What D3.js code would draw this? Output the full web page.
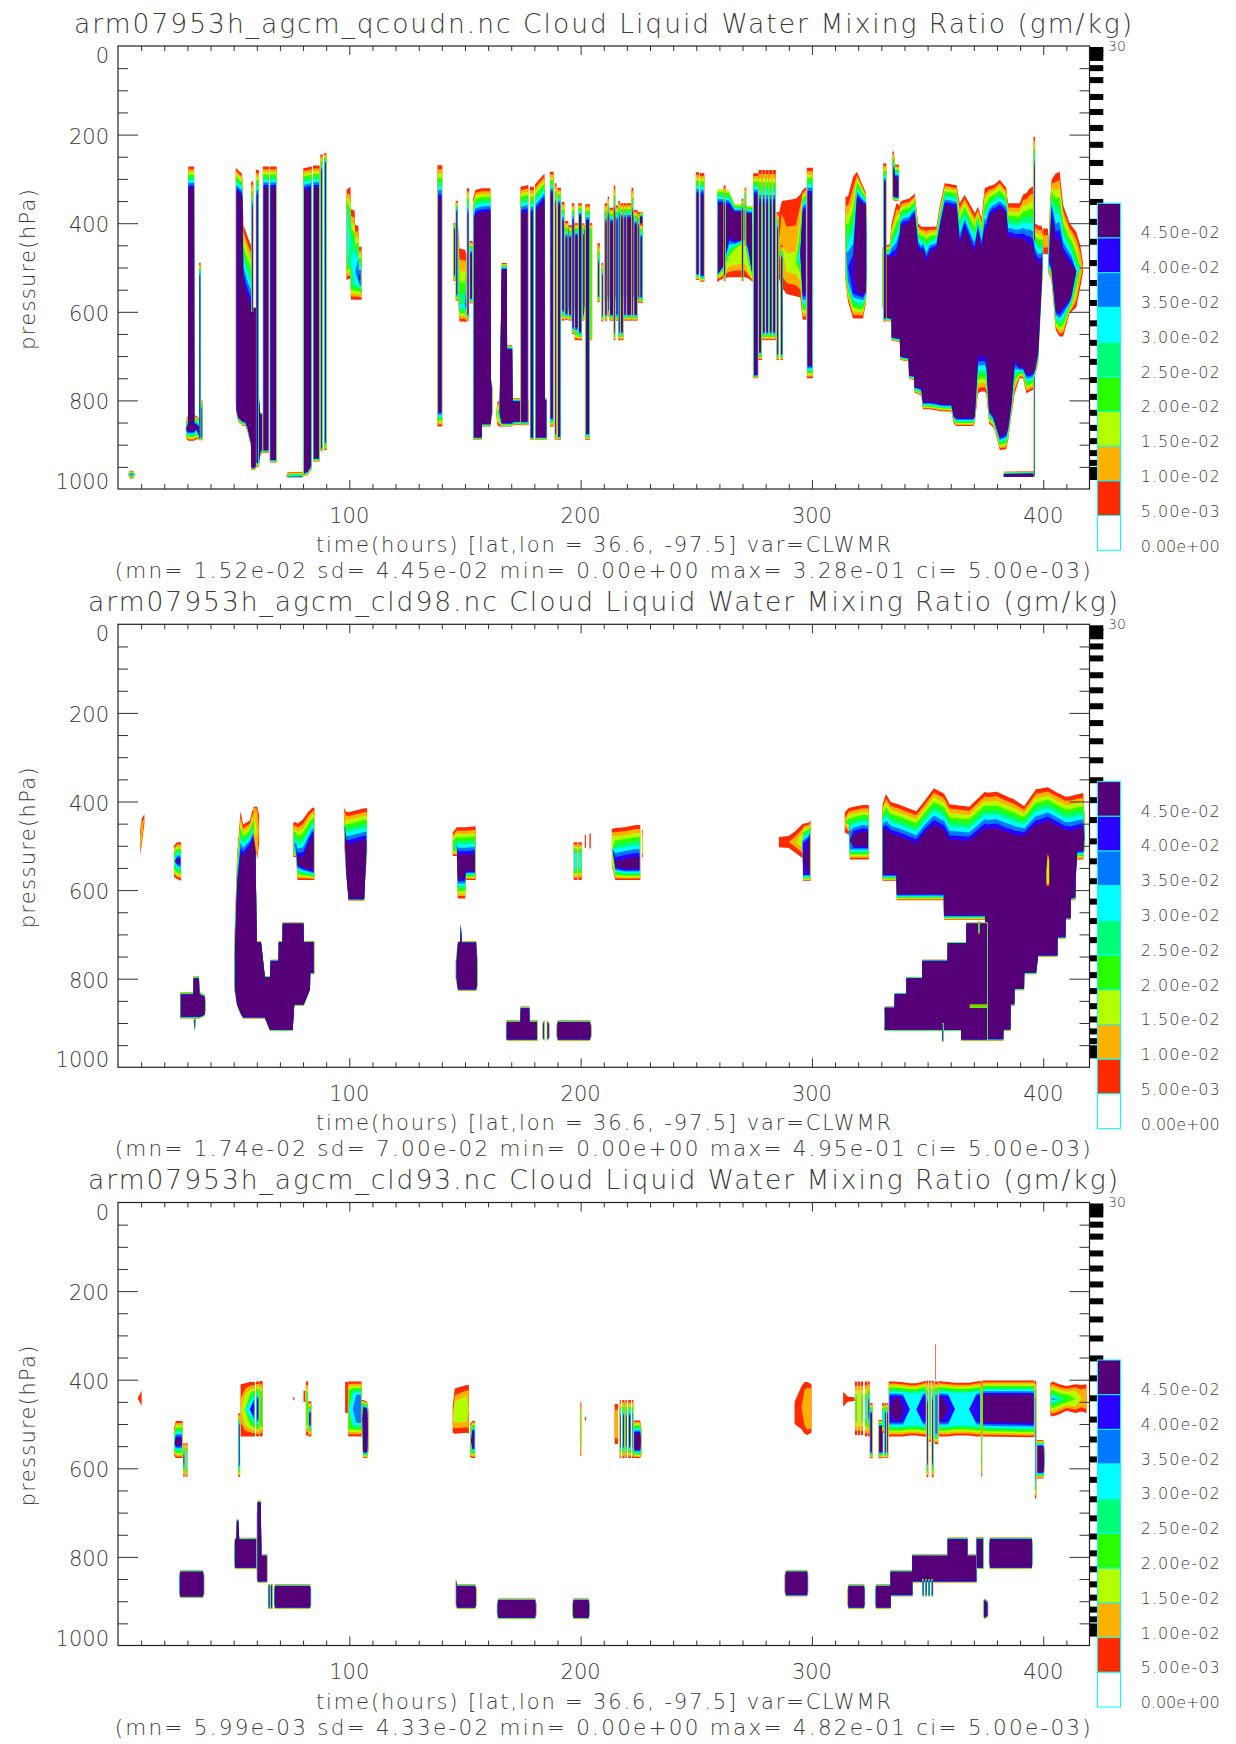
<!DOCTYPE html>
<html><head><meta charset="utf-8">
<script src="https://cdn.jsdelivr.net/npm/d3@7"></script>
<style>
html,body{margin:0;padding:0;background:#fff}
svg{display:block}
text{font-family:"DejaVu Sans",sans-serif;font-weight:200;fill:#3a3a3a}
</style></head><body>
<div id="chart"></div>
<script>
// ---- categories / labels -------------------------------------------------
const titles=["arm07953h_agcm_qcoudn.nc Cloud Liquid Water Mixing Ratio (gm/kg)",
 "arm07953h_agcm_cld98.nc Cloud Liquid Water Mixing Ratio (gm/kg)",
 "arm07953h_agcm_cld93.nc Cloud Liquid Water Mixing Ratio (gm/kg)"];
const xLabel="time(hours) [lat,lon = 36.6, -97.5] var=CLWMR";
const stats=["(mn= 1.52e-02 sd= 4.45e-02 min= 0.00e+00 max= 3.28e-01 ci= 5.00e-03)",
 "(mn= 1.74e-02 sd= 7.00e-02 min= 0.00e+00 max= 4.95e-01 ci= 5.00e-03)",
 "(mn= 5.99e-03 sd= 4.33e-02 min= 0.00e+00 max= 4.82e-01 ci= 5.00e-03)"];
const yLabel="pressure(hPa)";
const legendLabels=["4.50e-02","4.00e-02","3.50e-02","3.00e-02","2.50e-02","2.00e-02","1.50e-02","1.00e-02","5.00e-03","0.00e+00"];
const legendValues=[0.045,0.04,0.035,0.03,0.025,0.02,0.015,0.01,0.005,0];
const levelColors=["#ff2a00","#ffb000","#b4ff00","#2aff00","#00ff78","#00ffff","#0078ff","#2a00ff","#550078"];
const xMajor=[100,200,300,400];
const xMinor=[10,20,30,40,50,60,70,80,90,110,120,130,140,150,160,170,180,190,210,220,230,240,250,260,270,280,290,310,320,330,340,350,360,370,380,390,410];
const yMajor=[0,200,400,600,800,1000];
const yMinor=[50,100,150,250,300,350,450,500,550,650,700,750,850,900,950];
// model levels (hPa) shown as the black bars right of each panel
const modelLevels=[9,16,27,50,77,115,149,185,223,264,307,352,397,442,490,535,580,626,670,713,754,792,828,862,892,919,941,957,966,973];

// ---- contour envelopes. strip: [t0,t1,top,bot,topBand,botBand,cap]
//      blob: [topBand,botBand,[[t,top,bot,topBand?,botBand?,cap?],...],floor?]
const p1Blobs=[
 [10,10,[[4.4,967,967],[5,960,975],[5.9,958,977],[6.7,960,975],[7.3,967,967]]],
 [49,22,[[29.3,862,868,20,20],[29.7,840,888,22,22],[30.3,835,891,22,22],[30.4,272,891],[32.9,272,891],[33,833,891,22,25],[34,835,887,22,25],[35,842,889,20,12],[36.5,848,885,10,10]]],
 [50,10,[[50.9,276,800],[51.2,276,830],[52,281,848],[53.5,287,855],[53.8,300,857],[54.2,405,857,125,10],[55,415,858,130,10],[56,430,870,135,10],[57.5,450,905,135,10],[57.7,590,957,2,6],[59.2,590,957,2,6],[60,590,950,2,10],[61,800,945,2,10],[61.5,829,925,3,8],[62.5,829,918,3,8]]],
 [8,2,[[72.8,970,972,5,0],[73.4,962,974,12,2],[79.9,961,974,12,2]]],
 [50,8,[[80.1,276,972],[82,274,968],[83.8,272,955]]],
 [60,60,[[98.8,325,528,60,60,5],[100.5,318,525,140,60,4],[100.7,368,572,120,60,4],[102.3,372,573,130,55,5],[102.5,404,573,120,55,5],[103.9,406,573,100,55,6],[104.1,453,573,70,50,7],[105.3,453,573,70,40,6]]],
 [200,50,[[147.1,400,575,120,40,4],[147.6,457,622,200,50,5],[150,460,622,200,50,5],[150.6,470,625,100,40,7]]],
 [55,6,[[153.5,345,889,50,6],[154.5,325,889,55,6],[157.2,321,889,55,6],[157.3,321,859,55,6],[161,321,859,53,6],[161.2,750,850,5,5],[161.9,770,830,5,5]]],
 [10,8,[[163.5,830,832,60,60,0],[164,805,855,40,40,2],[165,798,859,35,35,4],[165.9,490,859,15,8],[168.1,490,859,15,8],[168.2,675,859,10,8],[170.4,675,859,10,8],[170.6,795,856,8,8],[174,795,855,8,8],[177.5,800,855,8,8]]],
 [60,8,[[174,318,856],[175.5,316,856],[177.4,314,856]]],
 [60,6,[[180.3,312,889],[184.4,288,889],[184.5,795,889,5,6],[185.5,795,889,5,6]]],
 [12,12,[[193,405,600],[204,405,600]]],
 [12,12,[[210.4,375,575],[227,375,575]]],
 [30,60,[[259,312,525,45,12],[261.6,312,515,45,20],[264.2,315,500,45,70],[266.6,351,470,25,30],[271,351,445,25,10],[272.5,355,510,25,60],[274.4,355,528,25,20]],2],
 [40,6,[[284,340,520],[285.4,330,520]],9],
 [230,200,[[285.4,385,520,200,200,0],[287,350,545,230,210,1],[289,348,560,480,200,2],[293,345,565,480,200,2],[295,335,568,200,150,8],[296,325,618,50,60,8],[297.6,318,618,50,60,8]]],
 [150,60,[[314.5,340,528,160,30,4],[315.6,340,577,165,60,6],[317.8,295,615,203,64,7],[319.5,284,615,60,60,8],[322.1,317,615,40,55,8],[323.3,330,581,30,30,8],[323.8,400,536,20,20,8]]],
 [45,10,[[334.8,240,345,45,10,7],[335.4,237,349,40,10],[336,268,350,30,10],[337.7,268,349,30,8]]],
 [50,8,[[330.5,455,590,10,10],[332.3,450,620,25,8],[333.6,448,622,28,8],[334.4,400,622,75,8],[334.5,400,665,75,8],[336.5,355,667,118,8],[338,360,668,75,8],[338.2,352,708,60,8],[339.4,348,710,55,8],[341.8,345,712,55,8],[342,345,752,55,8],[343,340,752,50,8],[344.2,335,755,48,10],[344.4,330,782,50,12],[345.9,400,785,55,14],[347.3,408,790,58,16],[348,408,820,50,16],[349.5,408,820,79,16],[350.9,408,820,56,16],[353.8,408,822,49,16],[355.2,363,824,52,16],[357.4,310,825,49,16],[360.3,312,825,49,16],[361.3,314,852,49,18],[362.5,314,858,49,18],[363.9,355,858,94,18],[366,336,858,72,18],[369.7,370,858,90,18],[370.4,378,852,85,18],[371.8,363,784,52,83],[373.3,389,780,68,79],[374.7,320,780,95,79],[375.4,320,785,95,75],[376.6,316,852,70,30],[378.3,314,860,60,25],[379,312,867,62,20],[381.2,302,912,64,30],[384,320,910,58,35],[384.8,355,890,75,30],[386.2,355,836,75,30],[387.7,355,784,79,75],[389.8,355,750,79,25],[391.3,335,750,100,25],[392.7,332,784,110,45],[394.2,321,780,124,40],[395.6,317,776,136,40],[396.4,400,746,75,15],[397.8,405,716,85,25],[399.2,405,566,85,20],[399.9,420,505,50,5]]],
 [120,120,[[400,412,470,120,120,1],[402,412,470,120,120,1],[402.2,430,460,120,120,0]]],
 [6,1,[[382.6,970,972,5,0],[383.1,961,973,6,1],[396.2,960,973,6,1]]],
 [60,60,[[402.1,460,510,20,15,6],[403,350,520,80,30,7],[403.6,302,532,70,30,8],[405.4,288,641,150,45,8],[407.1,284,656,150,55,8],[408.6,359,656,110,68,8],[411.4,400,603,90,30,8],[412.2,405,600,90,40,8],[414.3,420,590,130,120,5],[416,450,545,120,120,1],[417.2,490,510,120,120,0]]]
];
const p1Lower=[
 [0,35,[[259,400,532,0,35,2],[261.6,400,525,0,50,2],[264.2,400,522,0,100,2],[268,400,522,0,120,2],[271,400,522,0,120,2],[272.5,400,525,0,60,2],[274.4,400,532,0,20,2]]]
];
const p1Strips=[
 [35,35.8,490,890,30,5],[36,36.5,800,890,20,8],
 [57.6,58.5,306,600,60,0],[59.6,60.9,280,950,60,10],
 [62.6,65.3,272,918,48,6],[65.6,68.6,272,940,48,6],
 [84.3,87.2,270,938,50,8],[87.5,88.5,245,915,40,8],[89.1,90.2,242,912,25,20,7],
 [138.1,140.2,269,859,75,35],
 [145,146,400,530,15,15],[146,147,350,575,25,15],
 [150.8,151.8,321,620,60,15],[152,153.3,440,581,30,12],
 [178.1,179.8,318,889,60,6],[186.7,188.3,284,859,50,20],[188.8,189.6,310,889,50,15],[190,191.5,320,889,40,8],
 [191.8,193,352,620,45,25],[193.2,194.6,395,618,40,15],[194.8,196.2,405,620,30,15],[196.2,197.3,355,650,40,15],[197.4,199,400,664,30,30],[199,200.6,355,664,30,20],[200.8,201.6,400,620,30,15],[202,204,357,889,40,15],[204,205,400,664,30,10,3],
 [207.3,208.3,445,578,50,15],[209,209.8,490,622,30,15],[210.4,211.5,355,620,45,15],[211.7,212.3,340,610,45,15],[212.5,214.3,365,620,35,15],[214.3,215,315,664,60,20],[215.2,216.3,360,620,35,15],[216.3,217,350,664,35,20],[217.2,218.5,355,664,35,20],[218.6,219.8,355,620,35,15],[219.9,222,355,620,35,15],[222,222.8,320,620,60,15],[223,224.6,370,620,35,15],[224.7,225.5,375,580,35,15],[225.6,226.9,400,580,35,15],
 [249.8,251.3,285,528,50,15],[251.6,253.5,287,532,50,15],
 [261.8,262.7,315,530,45,15],[269.6,270.4,345,530,25,10],[270.9,271.6,320,450,30,10,4],
 [274.6,276.8,287,750,50,8],[276.9,278.3,280,709,75,20],[278.5,279.8,280,664,75,20],[280,281.3,280,664,75,20],[281.5,282.8,280,664,75,20],[283,284.4,280,664,75,20],[284.7,285.7,375,709,40,15],[286.4,287.5,450,709,30,15],
 [297.8,300.4,275,750,60,30],
 [330.8,332.2,265,622,45,8],[395.8,396.5,205,440,70,0],[395.9,396.4,746,972,3,3,7]
];
const p2Blobs=[
 [60,60,[[9.6,465,520,100,60,2],[10.2,440,500,60,60,1],[11.4,428,450,30,30,0]]],
 [40,40,[[24.2,500,570,40,40,4],[25.5,492,575],[27.3,492,579]]],
 [6,4,[[26.8,830,890],[32.6,830,890],[32.7,794,890],[35,794,890],[35.2,830,890],[37.4,835,885],[37.9,850,870]]],
 [4,2,[[32.7,890,895],[33.2,890,918],[33.7,890,895]]],
 [72,4,[[50.2,736,823,3,3],[51.5,520,861,72,3],[53,422,880,95,3],[54.1,452,890,70,3],[57,443,890,60,3],[58,422,890,70,3],[59.4,412,890,70,3],[59.5,530,890,8,3],[60,715,890,3,3],[61.8,715,890,3,3],[63.5,794,890,3,3],[65.7,794,918,3,3],[66,757,918,3,3],[69.4,757,918,3,3],[69.5,715,918,3,3],[71.1,715,918,3,3],[71.2,673,918,3,3],[75.5,673,918,3,3],[76.2,673,861,3,3],[80.2,673,861,3,3],[80.3,715,861,3,3],[83,715,826,3,3],[83.1,715,790,3,3],[84.9,715,790,3,3]]],
 [70,30,[[58.6,412,480,20,20,2],[60.2,412,530,40,20,1],[61,430,495,30,30,0]]],
 [72,25,[[75.8,447,525,60,20,4],[77,447,525,60,15,6],[77.6,450,577,75,36,8],[80,440,577,85,28,8],[82,425,577,75,25,8],[84,414,577,63,21,8],[84.9,414,577,63,21,8]]],
 [72,8,[[97.7,415,490,30,10,1],[98.6,423,560,72,8],[99.7,424,624,72,4],[106.4,415,624,72,4],[107,415,560,72,8],[107.7,415,520,72,8]]],
 [62,20,[[144.7,470,523,50,30,3],[146.5,458,523,55,25,4],[146.9,458,619,62,45,8],[150.1,458,619,62,45,8],[150.3,458,577,62,20,8],[154.6,456,577,62,20,8]]],
 [4,3,[[146,760,800],[147,715,827],[148,715,827],[148.2,675,827],[148.6,715,827],[154.8,715,827],[155.5,760,815]]],
 [4,3,[[167.7,905,935],[168.1,894,940],[174,894,940],[174.1,863,940],[177.8,863,940],[177.9,894,940],[181.4,894,940]]],
 [4,3,[[183.5,900,935],[184.4,894,940]]],
 [4,3,[[185.4,894,940],[186.5,900,935]]],
 [4,3,[[189.6,905,930],[190.2,894,940],[204,894,940],[204.7,905,930]]],
 [70,25,[[213.5,462,545,60,20,2],[215,460,577,75,30,8],[219,458,577,72,25,8],[224,453,577,72,25,8],[225.8,453,577,72,25,8]]],
 [50,10,[[285.7,480,503,120,120,0],[290,478,505,120,120,0],[293,466,516,100,100,1],[296,450,528,90,90,2],[296.2,450,579,50,15,7],[298.5,448,579,40,15,8],[299.4,443,579,35,15,8]]],
 [60,30,[[314.2,425,470,100,100,1],[316,414,475,60,60,3],[316.4,414,531,70,30,6],[318,412,531,62,30,8],[322,408,531,60,30,8],[324.6,408,531,62,30,8]]],
 [80,14,[[330.3,430,570,30,10],[330.6,405,579,60,14],[332,383,579,80,14],[334.1,401,579,72,14],[336.5,405,579,72,14],[336.7,405,623,72,14],[339.2,410,623,72,14],[345.1,422,623,72,14],[348.5,400,623,72,14],[352.7,370,623,82,14],[357,382,623,82,14],[357.1,382,667,82,10],[359.5,406,667,80,10],[368,412,667,77,10],[374.8,378,667,82,10],[375.7,380,940,82,4],[379.9,378,940,82,4],[382.7,385,940,82,4],[382.8,385,918,82,4],[385.8,392,918,80,4],[385.9,392,861,80,4],[387.5,395,861,80,4],[387.6,396,826,80,4],[391.7,410,826,67,4],[391.8,410,790,67,4],[396.9,372,790,80,4],[397.8,372,751,80,4],[402,368,751,75,4],[406.1,380,751,75,4],[406.2,380,710,75,4],[409.6,389,710,76,4],[409.7,389,667,76,4],[411.8,388,667,78,4],[411.9,388,623,78,4],[413.9,385,623,78,8],[414,385,577,78,8],[414.7,384,531,78,20],[417.3,381,531,79,20],[418.1,452,500,30,20]]],
 [3,3,[[331.2,880,905],[331.5,863,918],[335.7,863,918],[335.8,832,918],[340.8,832,918],[340.9,796,918],[347.6,796,918],[347.7,757,918],[358.6,757,918],[358.7,717,918],[364.5,717,918],[364.6,717,940],[366.7,717,940],[366.8,673,940],[376,673,940]]],
 [20,20,[[401.4,550,590,20,20,2],[402,515,592,30,30,2],[402.6,530,590,20,20,2]]]
];
const p2Strips=[
 [197,198.6,492,577,40,40,5],[199,200.5,492,577,40,40,5],[201.8,202.3,475,505,20,20,0],[203.8,204.4,473,506,20,20,0],[226.6,227,465,525,40,40,2],
 [356.2,356.9,900,942,3,3],[368.2,375.7,858,866,4,4,3],[372,372.4,670,700,10,10,5]
];
const p2Lower=[];
const p3Blobs=[
 [60,60,[[8.5,442,442,50,50,0],[10.2,425,459,50,50,0]]],
 [40,30,[[24.2,510,570,40,30,6],[25,493,577],[27.9,493,577]]],
 [4,3,[[26.4,840,885],[27,830,892],[36.7,830,892],[37.3,840,885]]],
 [45,45,[[53,410,528,250,250,1],[55,408,528,100,100,2],[57,405,528,75,75,5],[58.4,405,528,55,55,7],[59.2,405,528,55,55,7]]],
 [4,3,[[50.2,770,815],[50.6,757,827],[51.2,757,827],[51.4,715,827],[52,715,827],[52.4,757,827],[60,757,827]]],
 [4,3,[[60,700,850],[60.4,673,858],[61.7,673,858],[62,794,858],[64.6,794,858]]],
 [4,3,[[67.4,870,910],[67.9,862,917],[83,862,917],[83.5,870,910]]],
 [40,40,[[99.5,404,528,50,40,3],[101.5,404,528,40,40,5],[103,404,528,40,40,6],[105.3,404,528,40,40,6]]],
 [18,15,[[105.4,446,528,18,15,4],[106,446,577,18,15,8],[107.7,450,577,18,15,8],[108.3,470,560,18,15,6]]],
 [80,80,[[144.7,460,520,120,100,1],[145.6,420,522,120,100,2],[150.7,412,520,100,100,2],[151.7,412,522,100,100,1]]],
 [25,25,[[152.3,500,575,30,30,3],[153.2,493,577,25,25,8],[154.4,493,577,25,25,7]]],
 [4,3,[[146,850,910],[146.6,862,917],[154.4,862,917],[155,870,910]]],
 [4,3,[[163.8,905,930],[164.4,894,940],[180.3,894,940],[180.9,905,930]]],
 [4,3,[[196.4,905,930],[197,894,940],[203.4,894,940],[204,905,930]]],
 [30,20,[[222.9,492,577,30,20,8],[225.7,492,577,30,20,8],[226.3,510,570,20,20,6]]],
 [4,3,[[288.2,840,880],[288.8,830,889],[297.9,830,889],[298.4,840,880]]],
 [100,100,[[292.5,450,500,300,300,0],[295.5,415,512,300,300,0],[296.8,405,522,150,150,1],[298,405,525,100,100,1],[299.8,410,520,80,80,1]]],
 [60,60,[[313.5,427,461,120,120,0],[315.5,438,450,120,120,0],[318.5,440,448,120,120,0]]],
 [36,36,[[333.2,404,528,36,36,7],[335.8,404,528,36,36,8],[338,405,528,36,36,8],[339.4,406,528,36,36,7],[342.3,408,526,36,36,5],[345.2,408,526,36,36,5],[348.1,404,528,36,36,7],[349.4,403,528,36,36,8]]],
 [36,36,[[354.8,403,528,36,36,8],[356.5,404,528,36,36,8],[358.9,405,528,36,36,7],[361.8,407,526,36,36,5],[368,407,526,36,36,5],[371.1,404,528,36,36,7],[373,403,528,36,36,7]]],
 [32,32,[[373.7,402,528,32,32,8],[395.6,402,530,32,32,8],[396.2,402,530,32,32,8]]],
 [15,15,[[397.2,536,623],[400,536,623],[400.7,560,600]]],
 [50,50,[[403.1,408,480,50,50,6],[404,404,483,50,50,6],[407,410,478,55,55,4],[410,414,470,50,50,3],[414,410,475,60,60,2],[416.5,412,472,80,80,1],[418.7,410,475,70,70,1]]],
 [4,3,[[315.4,870,910],[315.9,862,917],[322.5,862,917],[323,870,910]]],
 [4,3,[[327.3,870,910],[327.8,862,917],[334,862,917],[334,830,889],[343.4,830,889],[343.4,794,858],[358.7,794,858],[358.7,756,858],[367.2,756,858],[367.2,794,858],[371.4,794,858]]],
 [4,3,[[370.9,756,827],[374.3,756,827]]],
 [4,3,[[374.1,900,935],[374.7,894,940],[376.2,900,935]]],
 [4,3,[[376.5,770,815],[377,756,827],[395,756,827],[395.5,770,815]]]
];
const p3Strips=[
 [28.2,28.8,543,619,30,30],[29.2,30,543,619,30,30,5],
 [52,52.8,476,619,30,30,7],[59.7,61,404,528,45,45,7],[61.2,62.5,403,528,60,60,3],
 [64.9,65.7,862,917,3,3],[65.9,66.9,862,917,3,3],
 [75.6,76.3,440,445,2,2,0],[80.2,81,425,450,20,20,0],[81.2,82.2,404,526,60,60,3],[82.3,83.6,449,528,30,30,7],
 [98.2,99.4,405,475,100,100,0],
 [199.9,200.3,450,572,60,60,3],[201.8,202.4,484,492,6,6,0],
 [214.7,216.2,455,545,100,100,1],[216.9,217.4,446,577,40,30,8],[218,219,446,577,40,30,8],[219.4,220,446,577,40,30,8],[220.6,221.8,446,577,40,30,8],[222.2,222.8,446,577,40,30,6],
 [318.6,319.6,404,525,80,80,3],[319.9,320.9,404,525,80,80,2],[321.2,322.1,404,525,80,80,3],[322.9,324,404,528,70,60,5],[324.2,325,404,528,50,50,7],[325,326.2,453,577,25,15,8],
 [328.8,330.8,491,577,15,15],[330.3,331.2,453,520,30,30,5],[331.3,332.1,453,577,25,15],[332.3,333,453,577,25,15],
 [349.6,350.3,402,620,55,35],[350.6,351.4,402,540,40,30,5],[351.8,352.6,402,620,50,35,8],[353,354.6,404,545,40,30,6],[353.2,353.5,320,400,60,60,0],
 [373.2,373.6,403,619,60,60,3],[396.4,397,403,668,50,50,6],
 [347.7,348.4,850,889,3,3],[349,349.7,850,889,3,3],[350.3,351,850,889,3,3],[351.6,352.4,850,889,3,3]
];
const p3Lower=[];
const panels=[
 {blobs:p1Blobs,lower:p1Lower,strips:p1Strips,top:46,bar:203.3},
 {blobs:p2Blobs,lower:p2Lower,strips:p2Strips,top:624.3,bar:781.6},
 {blobs:p3Blobs,lower:p3Lower,strips:p3Strips,top:1202.5,bar:1360}
];

// ---- drawing --------------------------------------------------------------
const W=1236,H=1744,plotH=443,L=118,R=1089.5;
const svg=d3.select("#chart").append("svg").attr("width",W).attr("height",H);
const x=d3.scaleLinear().domain([0,420]).range([L,R]);

function drawBlob(g,y,tbDef,bbDef,cols,floor,area){
 const f=floor===undefined?0:floor;
 for(let i=f;i<levelColors.length;i++){
  const n=cols.length;
  const w=cols[n-1][0]-cols[0][0];
  const ins=Math.min(0.05,w*0.4/8);
  const pts=cols.map((c,k)=>{
   let [t,top,bot,tb,bb,cap]=c;
   tb=tb===undefined?tbDef:tb; bb=bb===undefined?bbDef:bb; cap=cap===undefined?8:cap;
   const lv=Math.min(i,cap);
   let a=top+lv*tb/8,b=bot-lv*bb/8;
   if(a>b||i>cap){
     const m=a>b?top+(bot-top)*(tb/(tb+bb||1)):(a+b)/2;
     a=b=m;
   }
   if(k===0)t+=i*ins;
   if(k===n-1)t-=i*ins;
   return {t,a,b};
  });
  if(!pts.some(p=>p.b-p.a>0.01))continue;
  g.append("path").datum(pts).attr("fill",levelColors[i]).attr("d",area(y));
 }
}

function axisStyle(s){
 s.select(".domain").remove();
 s.selectAll("line").attr("stroke","#333").attr("stroke-width",1);
}

panels.forEach((pn,idx)=>{
 const dy=pn.top-46;
 const y=d3.scaleLinear().domain([0,1000]).range([pn.top,pn.top+plotH]);
 const bottom=pn.top+plotH;
 const g=svg.append("g");
 const area=yy=>d3.area().x(d=>x(d.t)).y0(d=>yy(d.a)).y1(d=>yy(d.b));
 pn.lower.forEach(b=>drawBlob(g,y,b[0],b[1],b[2],b[3],area));
 pn.blobs.forEach(b=>drawBlob(g,y,b[0],b[1],b[2],b[3],area));
 pn.strips.forEach(s=>{
  const [t0,t1,top,bot,tb,bb,cap]=s;
  drawBlob(g,y,tb,bb,[[t0,top,bot,tb,bb,cap],[t1,top,bot,tb,bb,cap]],0,area);
 });

 // model-level bars
 svg.append("g").selectAll("rect").data(modelLevels).join("rect")
  .attr("x",R).attr("width",13.8).attr("y",d=>y(d)-3).attr("height",6).attr("fill","#000");

 // axes
 const fmtNone=()=> "";
 svg.append("g").attr("transform",`translate(0,${bottom})`).call(d3.axisBottom(x).tickValues(xMinor).tickSize(-5).tickSizeOuter(0).tickFormat(fmtNone)).call(axisStyle);
 svg.append("g").attr("transform",`translate(0,${bottom})`).call(d3.axisBottom(x).tickValues(xMajor).tickSize(-9).tickSizeOuter(0).tickFormat(fmtNone)).call(axisStyle);
 svg.append("g").attr("transform",`translate(0,${pn.top})`).call(d3.axisTop(x).tickValues(xMinor).tickSize(-5).tickSizeOuter(0).tickFormat(fmtNone)).call(axisStyle);
 svg.append("g").attr("transform",`translate(0,${pn.top})`).call(d3.axisTop(x).tickValues(xMajor).tickSize(-9).tickSizeOuter(0).tickFormat(fmtNone)).call(axisStyle);
 svg.append("g").attr("transform",`translate(${L},0)`).call(d3.axisLeft(y).tickValues(yMinor).tickSize(-10).tickSizeOuter(0).tickFormat(fmtNone)).call(axisStyle);
 svg.append("g").attr("transform",`translate(${L},0)`).call(d3.axisLeft(y).tickValues(yMajor.slice(1,-1)).tickSize(-20).tickSizeOuter(0).tickFormat(fmtNone)).call(axisStyle);
 svg.append("g").attr("transform",`translate(${R},0)`).call(d3.axisRight(y).tickValues(yMinor).tickSize(-10).tickSizeOuter(0).tickFormat(fmtNone)).call(axisStyle);
 svg.append("g").attr("transform",`translate(${R},0)`).call(d3.axisRight(y).tickValues(yMajor.slice(1,-1)).tickSize(-20).tickSizeOuter(0).tickFormat(fmtNone)).call(axisStyle);
 svg.append("rect").attr("x",L).attr("y",pn.top).attr("width",R-L).attr("height",plotH).attr("fill","none").attr("stroke","#222").attr("stroke-width",1.2);

 // tick labels
 svg.append("g").selectAll("text").data(xMajor).join("text").attr("x",d=>x(d)).attr("y",bottom+33.5).attr("text-anchor","middle").attr("font-size",21).text(d=>d);
 svg.append("g").selectAll("text").data(yMajor).join("text").attr("x",109).attr("text-anchor","end").attr("font-size",21)
  .attr("y",d=>y(d)+(d===0?17:d===1000?0:9)).text(d=>d);

 // titles
 const tx=idx===0?[74,1132]:[88,1118];
 svg.append("text").attr("x",tx[0]).attr("y",32.5+dy).attr("font-size",26.5).attr("textLength",tx[1]-tx[0]).attr("lengthAdjust","spacing").text(titles[idx]);
 svg.append("text").attr("x",316).attr("y",552+dy).attr("font-size",21).attr("textLength",575).attr("lengthAdjust","spacing").text(xLabel);
 svg.append("text").attr("x",114.7).attr("y",578+dy).attr("font-size",21.5).attr("textLength",976).attr("lengthAdjust","spacing").text(stats[idx]);
 svg.append("text").attr("transform",`translate(34.5,${350+dy}) rotate(-90)`).attr("font-size",21).attr("textLength",161).attr("lengthAdjust","spacing").text(yLabel);
 svg.append("text").attr("x",1108).attr("y",50.7+dy).attr("font-size",14).text("30");

 // colour bar
 const band=d3.scaleBand().domain(legendValues).range([pn.bar,pn.bar+347]);
 const barCols=[...levelColors].reverse().concat(["#ffffff"]);
 const lg=svg.append("g");
 lg.selectAll("rect").data(legendValues).join("rect")
  .attr("x",1097.5).attr("width",23).attr("y",d=>band(d)).attr("height",band.bandwidth())
  .attr("fill",(d,i)=>barCols[i]).attr("stroke","#00ffff").attr("stroke-width",1);
 lg.selectAll("text").data(legendLabels).join("text").attr("x",1140.7).attr("y",(d,i)=>pn.bar+35+i*34.8)
  .attr("font-size",16).attr("textLength",79).attr("lengthAdjust","spacing").text(d=>d);
});
</script>
</body></html>
